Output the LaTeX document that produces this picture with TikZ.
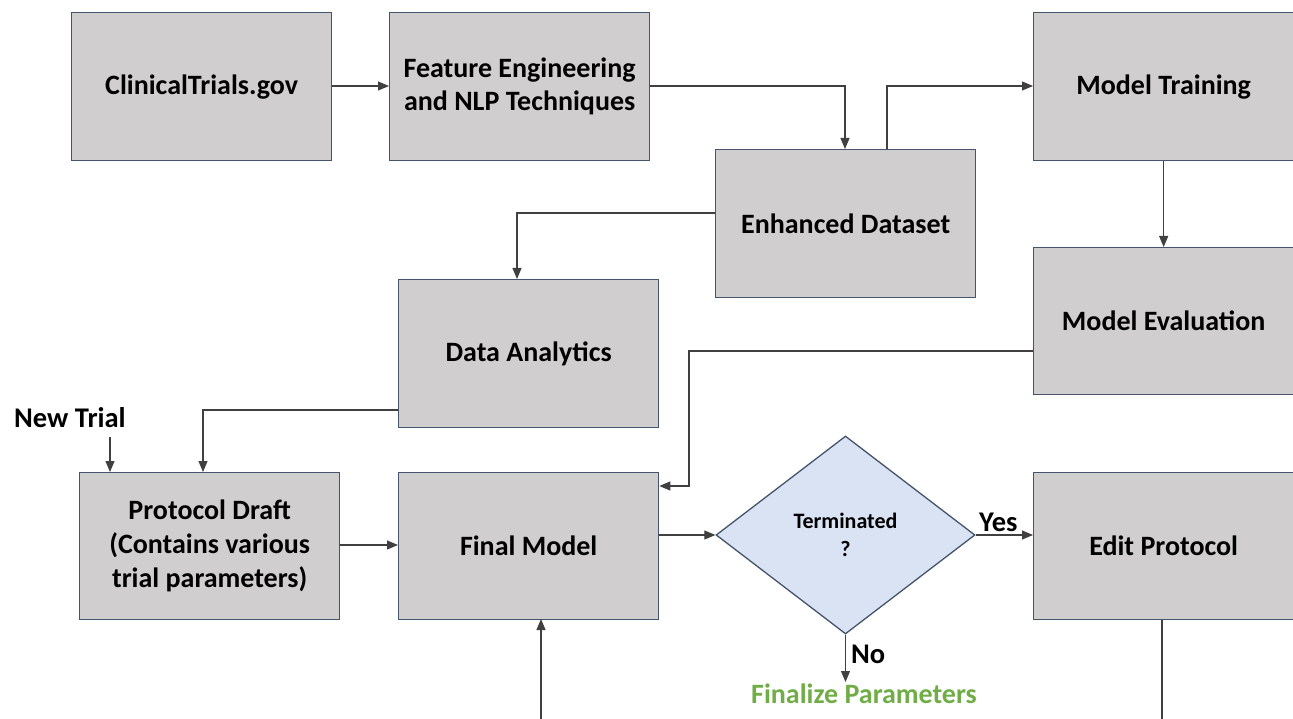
\documentclass[tikz,border=0pt]{standalone}
\usepackage{fontspec}
\setmainfont{Carlito}
\usetikzlibrary{arrows.meta,shapes.geometric}
\definecolor{boxfill}{HTML}{D0CECE}
\definecolor{boxline}{HTML}{44546A}
\definecolor{decfill}{HTML}{DAE3F3}
\definecolor{flow}{HTML}{404040}
\definecolor{okgreen}{HTML}{70AD47}
\tikzset{
  stage/.style={draw=boxline, fill=boxfill, line width=1.3pt, minimum width=260pt,
    minimum height=148pt, inner sep=0pt, align=center, anchor=north west,
    font=\fontsize{28}{34}\selectfont\bfseries},
  decision/.style={diamond, draw=boxline, fill=decfill, line width=1.3pt,
    minimum width=259pt, minimum height=198pt, inner sep=0pt, aspect=1.3,
    align=center, font=\fontsize{22}{28}\selectfont\bfseries},
  flowline/.style={draw=flow, line width=1.1pt},
  flowarrow/.style={flowline, -{Triangle[length=11pt,width=9pt]}},
  tag/.style={font=\fontsize{28.5}{32}\selectfont\bfseries, inner sep=0pt}
}
\begin{document}
\begin{tikzpicture}[x=1pt, y=-1pt]
\useasboundingbox (0,0) rectangle (1293,719);

% processing stages
\node[stage] (ct)  at (71,12)    {ClinicalTrials.gov};
\node[stage, font=\fontsize{28}{33}\selectfont\bfseries] (fe)  at (389,12)   {Feature Engineering\\and NLP Techniques};
\node[stage] (mt)  at (1033,12)  {Model Training};
\node[stage] (ed)  at (715,149)  {Enhanced Dataset};
\node[stage, minimum height=147pt] (me)  at (1033,247) {Model Evaluation};
\node[stage] (da)  at (398,279)  {Data Analytics};
\node[stage, minimum height=147pt] (pd)  at (79,472)   {Protocol Draft\\(Contains various\\trial parameters)};
\node[stage, minimum height=147pt] (fm)  at (398,472)  {Final Model};
\node[stage, minimum height=147pt] (ep)  at (1033,472) {Edit Protocol};
\node[decision] (term) at (845.5,535) {Terminated\\?};

% free texts
\node[tag, anchor=base west] (nt) at (14,427) {New Trial};
\node[tag, anchor=base west] (yes) at (979,531) {Yes};
\node[tag, anchor=base west] (no) at (851,663) {No};
\node[tag, anchor=base, text=okgreen, font=\fontsize{28}{32}\selectfont\bfseries] (fin) at (864,703) {Finalize Parameters};

% end points of open connectors
\coordinate (ntend) at (110,437);
\coordinate (noend) at (845.5,682);
\coordinate (fmsrc) at (541,719);
\coordinate (epend) at (1162,719);

% connectors
\draw[flowarrow] (ct.east |- 0,86) -- (fe.west |- 0,86);
\draw[flowarrow] (fe.east |- 0,86) -- (845,86) -- (845,149);
\draw[flowarrow] (887,149) -- (887,86) -- (mt.west |- 0,86);
\draw[flowarrow] (mt.south) -- (me.north);
\draw[flowarrow] (ed.west |- 0,213) -- (517,213) -- (517,279);
\draw[flowarrow] (da.west |- 0,410) -- (203,410) -- (203,472);
\draw[flowarrow] (ntend) -- (110,472);
\draw[flowarrow] (me.west |- 0,351) -- (689,351) -- (689,486) -- (fm.east |- 0,486);
\draw[flowarrow] (pd.east |- 0,545) -- (fm.west |- 0,545);
\draw[flowarrow] (fm.east |- 0,535) -- (term.west);
\draw[flowarrow] (term.east) -- (ep.west |- 0,535);
\draw[flowarrow] (term.south) -- (noend);
\draw[flowarrow] (fmsrc) -- (541,619);
\draw[flowline] (epend |- ep.south) -- (epend);
\end{tikzpicture}
\end{document}
